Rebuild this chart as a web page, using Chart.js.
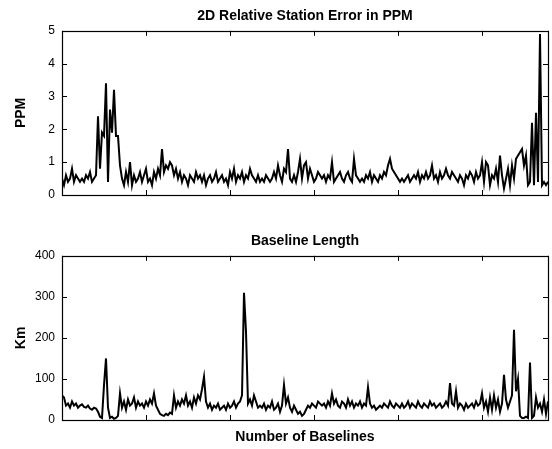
<!DOCTYPE html>
<html>
<head>
<meta charset="utf-8">
<script src="https://cdn.jsdelivr.net/npm/chart.js@4/dist/chart.umd.min.js"></script>
<style>
  html, body { margin: 0; padding: 0; background: #fff; }
  #wrap { position: relative; width: 552px; height: 449px; }
  #wrap canvas { position: absolute; left: 0; }
</style>
</head>
<body>
<div id="wrap">
  <canvas id="cPpm" style="top:0px" width="552" height="215"></canvas>
  <canvas id="cKm" style="top:225px" width="552" height="224"></canvas>
</div>
<script>
// número total de baselines (eixo x, sem rótulos)
const nBaselines = 578;

// 2D relative station error (PPM), ~1 amostra a cada 2 px
const ppm = [
  0.5, 0.3, 0.6, 0.4, 0.5, 0.8, 0.4, 0.6, 0.5, 0.4,
  0.5, 0.4, 0.6, 0.5, 0.7, 0.4, 0.5, 0.6, 2.4, 0.8,
  1.9, 1.8, 3.4, 0.4, 2.6, 1.9, 3.2, 1.8, 1.8, 0.9,
  0.5, 0.3, 0.7, 0.4, 1.0, 0.3, 0.6, 0.4, 0.5, 0.7,
  0.4, 0.6, 0.8, 0.4, 0.5, 0.3, 0.7, 0.5, 0.8, 0.6,
  1.4, 0.7, 0.9, 0.8, 1.0, 0.9, 0.6, 0.8, 0.5, 0.7,
  0.4, 0.6, 0.5, 0.3, 0.6, 0.5, 0.4, 0.7, 0.5, 0.6,
  0.4, 0.6, 0.3, 0.5, 0.6, 0.4, 0.5, 0.7, 0.4, 0.5,
  0.6, 0.4, 0.5, 0.3, 0.7, 0.5, 0.8, 0.4, 0.6, 0.5,
  0.7, 0.4, 0.6, 0.5, 0.8, 0.6, 0.5, 0.4, 0.6, 0.4,
  0.5, 0.4, 0.6, 0.5, 0.4, 0.5, 0.7, 0.5, 0.9, 0.6,
  0.4, 0.8, 0.7, 1.4, 0.5, 0.4, 0.6, 0.4, 0.7, 1.1,
  0.5, 0.9, 1.0, 0.5, 0.8, 0.6, 0.4, 0.5, 0.7, 0.6,
  0.5, 0.6, 0.4, 0.6, 0.5, 1.0, 0.4, 0.5, 0.6, 0.7,
  0.5, 0.4, 0.6, 0.7, 0.5, 0.4, 1.1, 0.6, 0.5, 0.4,
  0.5, 0.4, 0.6, 0.5, 0.7, 0.4, 0.6, 0.5, 0.4, 0.6,
  0.5, 0.7, 0.6, 0.9, 1.1, 0.8, 0.7, 0.6, 0.5, 0.4,
  0.5, 0.4, 0.5, 0.6, 0.4, 0.5, 0.6, 0.5, 0.7, 0.4,
  0.6, 0.5, 0.7, 0.5, 0.6, 0.9, 0.5, 0.6, 0.4, 0.7,
  0.5, 0.6, 0.8, 0.6, 0.5, 0.7, 0.6, 0.5, 0.4, 0.6,
  0.5, 0.3, 0.6, 0.5, 0.7, 0.6, 0.4, 0.7, 0.5, 0.6,
  1.0, 0.4, 1.0, 0.9, 0.3, 0.6, 0.5, 0.8, 0.4, 1.2,
  0.6, 0.2, 0.5, 0.8, 0.3, 0.9, 0.5, 1.1, 1.2, 1.3,
  1.4, 0.9, 1.2, 0.3, 0.4, 2.2, 0.3, 2.5, 0.4, 4.9,
  0.3, 0.4, 0.3, 0.4
];

// comprimento da baseline (km)
const km = [
  60, 55, 35, 40, 30, 45, 35, 40, 30, 35,
  38, 32, 30, 35, 28, 25, 30, 28, 20, 8,
  5, 85, 150, 30, 5, 8, 3, 5, 10, 65,
  30, 45, 25, 50, 35, 40, 55, 30, 45, 35,
  40, 30, 45, 35, 50, 40, 65, 35, 25, 15,
  12, 10, 15, 12, 18, 15, 60, 30, 45, 35,
  50, 40, 60, 35, 45, 30, 55, 40, 60, 50,
  75, 105, 45, 30, 40, 25, 35, 30, 40, 25,
  30, 35, 25, 40, 30, 35, 45, 30, 40, 45,
  60, 310, 215, 40, 50, 35, 60, 45, 30, 35,
  30, 40, 25, 35, 30, 45, 25, 30, 40, 20,
  35, 85, 40, 55, 30, 20, 35, 25, 15, 20,
  10, 15, 25, 35, 30, 40, 35, 30, 45, 40,
  35, 40, 30, 45, 35, 65, 40, 50, 35, 30,
  45, 40, 30, 50, 35, 45, 30, 40, 35, 45,
  30, 40, 35, 80, 40, 30, 35, 25, 30, 35,
  30, 40, 35, 30, 45, 35, 30, 40, 35, 30,
  40, 30, 35, 45, 30, 40, 35, 30, 45, 35,
  30, 40, 35, 30, 45, 35, 40, 30, 35, 40,
  30, 35, 45, 35, 90, 40, 35, 70, 30, 40,
  35, 25, 40, 30, 35, 40, 30, 45, 35, 40,
  65, 30, 45, 20, 55, 25, 60, 30, 50, 20,
  40, 110, 50, 30, 45, 60, 220, 70, 100, 10,
  5, 5, 8, 5, 140, 5, 10, 55, 30, 40,
  20, 50, 15, 45
];

const ppmTicks = [0, 1, 2, 3, 4, 5];
const kmTicks = [0, 100, 200, 300, 400];

const FONT = 'Liberation Sans, Arial, Helvetica, sans-serif';

// moldura preta + marcas de escala para dentro nos 4 lados (estilo MATLAB)
const matlabFrame = {
  id: 'matlabFrame',
  afterDraw(chart) {
    const { ctx, chartArea: a, scales } = chart;
    const len = 5;
    ctx.save();
    ctx.strokeStyle = '#000';
    ctx.lineWidth = 1;
    ctx.beginPath();
    scales.x.ticks.forEach(t => {
      const px = Math.round(scales.x.getPixelForValue(t.value)) + 0.5;
      ctx.moveTo(px, a.bottom); ctx.lineTo(px, a.bottom - len);
      ctx.moveTo(px, a.top); ctx.lineTo(px, a.top + len);
    });
    scales.y.ticks.forEach(t => {
      const py = Math.round(scales.y.getPixelForValue(t.value)) + 0.5;
      ctx.moveTo(a.left, py); ctx.lineTo(a.left + len, py);
      ctx.moveTo(a.right, py); ctx.lineTo(a.right - len, py);
    });
    ctx.stroke();
    ctx.lineWidth = 1.2;
    ctx.strokeRect(Math.round(a.left) + 0.5, Math.round(a.top) + 0.5,
      Math.round(a.right - a.left), Math.round(a.bottom - a.top));
    ctx.restore();
  }
};

function toPoints(vals) {
  return vals.map((v, i) => ({ x: i * nBaselines / (vals.length - 1), y: v }));
}

function makeChart(canvasId, { title, yLabel, values, yTicks, xTitle }) {
  const ctx = document.getElementById(canvasId);
  return new Chart(ctx, {
    type: 'line',
    data: {
      datasets: [{
        data: toPoints(values),
        borderColor: '#000',
        borderWidth: 2,
        pointRadius: 0,
        tension: 0
      }]
    },
    options: {
      responsive: false,
      animation: false,
      layout: { padding: { left: 0, right: 4, top: 0, bottom: xTitle ? 0 : 20 } },
      plugins: {
        legend: { display: false },
        tooltip: { enabled: false },
        title: {
          display: true,
          text: title,
          fullSize: false,
          color: '#000',
          font: { family: FONT, size: 14, weight: 'bold' },
          padding: { top: 8, bottom: 6 }
        }
      },
      scales: {
        x: {
          type: 'linear',
          min: 0,
          max: nBaselines,
          ticks: { display: false, stepSize: 100 },
          grid: { display: false },
          border: { display: false },
          title: xTitle ? {
            display: true,
            text: xTitle,
            color: '#000',
            font: { family: FONT, size: 14, weight: 'bold' },
            padding: { top: 0, bottom: 3 }
          } : { display: false },
          afterFit(s) { s.height = xTitle ? 29 : 0; }
        },
        y: {
          min: yTicks[0],
          max: yTicks[yTicks.length - 1],
          afterBuildTicks(s) { s.ticks = yTicks.map(v => ({ value: v })); },
          ticks: {
            color: '#000',
            padding: 7,
            font: { family: FONT, size: 12 }
          },
          grid: { display: false, drawTicks: false },
          border: { display: false },
          title: {
            display: true,
            text: yLabel,
            color: '#000',
            font: { family: FONT, size: 14, weight: 'bold' },
            padding: { top: 13, bottom: 0 }
          },
          afterFit(s) { s.width = 62; }
        }
      }
    },
    plugins: [matlabFrame]
  });
}

makeChart('cPpm', {
  title: '2D Relative Station Error in PPM',
  yLabel: 'PPM',
  values: ppm,
  yTicks: ppmTicks
});

makeChart('cKm', {
  title: 'Baseline Length',
  yLabel: 'Km',
  values: km,
  yTicks: kmTicks,
  xTitle: 'Number of Baselines'
});
</script>
</body>
</html>
